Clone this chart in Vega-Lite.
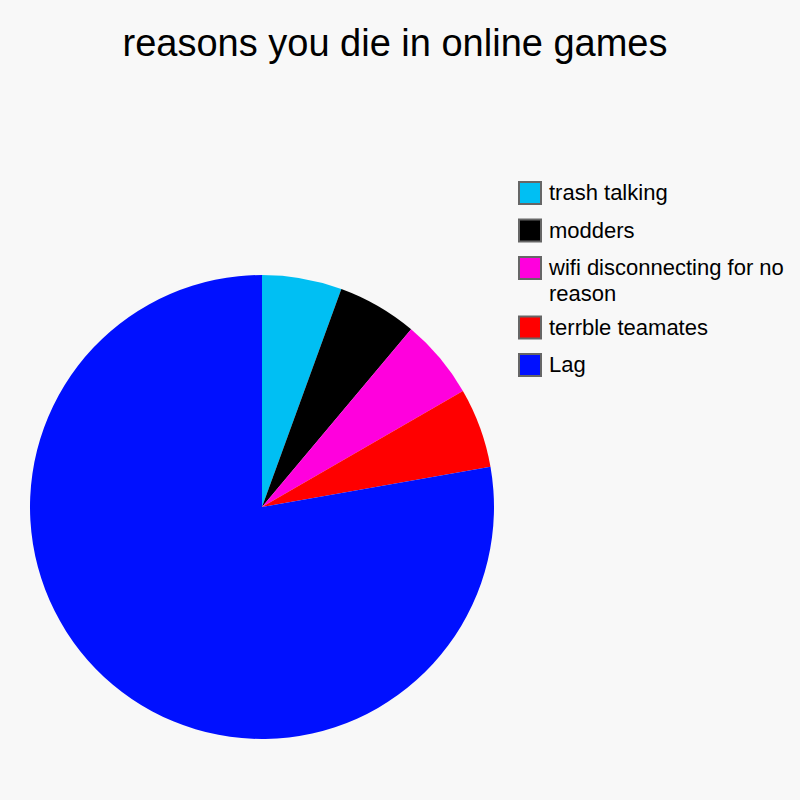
{
  "$schema": "https://vega.github.io/schema/vega-lite/v6.json",
  "description": "reasons you die in online games",
  "width": 800,
  "height": 800,
  "autosize": "none",
  "padding": 0,
  "background": "#F8F8F8",
  "title": {
    "text": "reasons you die in online games",
    "font": "Liberation Sans",
    "fontSize": 38,
    "fontWeight": "normal",
    "color": "#000000",
    "anchor": "middle",
    "frame": "group",
    "offset": -64,
    "dx": -5
  },
  "data": {
    "values": [
      {"reason": "trash talking", "count": 1, "rank": 1},
      {"reason": "modders", "count": 1, "rank": 2},
      {"reason": "wifi disconnecting for no reason", "count": 1, "rank": 3},
      {"reason": "terrble teamates", "count": 1, "rank": 4},
      {"reason": "Lag", "count": 14, "rank": 5}
    ]
  },
  "mark": {"type": "arc", "x": 262, "y": 507, "outerRadius": 232, "stroke": null},
  "encoding": {
    "theta": {"field": "count", "type": "quantitative", "stack": true},
    "order": {"field": "rank", "type": "quantitative"},
    "color": {
      "field": "reason",
      "type": "nominal",
      "scale": {
        "domain": ["trash talking", "modders", "wifi disconnecting for no reason", "terrble teamates", "Lag"],
        "range": ["#00BFF3", "#000000", "#FF00DD", "#FF0000", "#0010FF"]
      },
      "legend": {
        "title": null,
        "orient": "none",
        "legendX": 518,
        "legendY": 181,
        "gridAlign": "none",
        "symbolType": "square",
        "symbolSize": 484,
        "symbolStrokeColor": "#666666",
        "symbolStrokeWidth": 2,
        "symbolOpacity": 1,
        "labelFont": "Liberation Sans",
        "labelFontSize": 22,
        "labelColor": "#000000",
        "labelLimit": 400,
        "labelOffset": 7,
        "rowPadding": 7.5,
        "labelExpr": "datum.label == 'wifi disconnecting for no reason' ? ['wifi disconnecting for no', 'reason'] : datum.label",
        "encode": {"labels": {"update": {"lineHeight": {"value": 26}}}}
      }
    }
  }
}
